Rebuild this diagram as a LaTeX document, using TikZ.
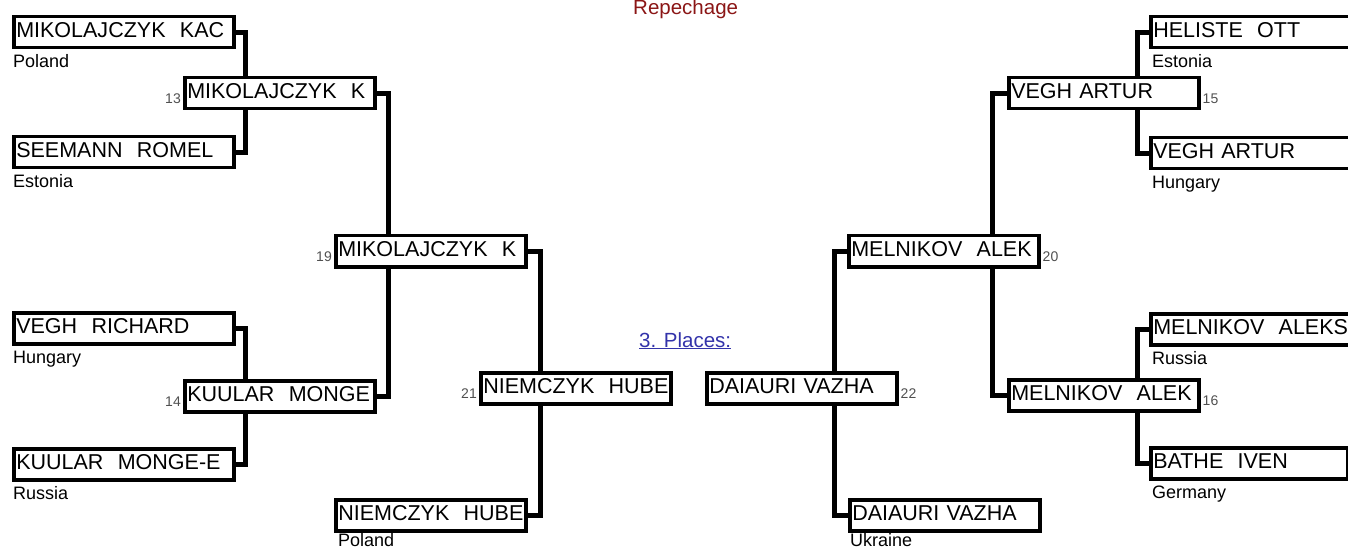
\documentclass[tikz,border=0pt]{standalone}
\usepackage{fontspec}
\setmainfont{Liberation Sans}
\newcommand\nmfont{\fontsize{21.5bp}{24bp}\selectfont}
\newcommand\ctfont{\fontsize{18bp}{21bp}\selectfont}
\newcommand\nbfont{\fontsize{14bp}{16bp}\selectfont}
\newcommand\ttlfont{\fontsize{20.5bp}{23bp}\selectfont}
\definecolor{repred}{RGB}{139,22,22}
\definecolor{placeblue}{RGB}{51,51,170}
\definecolor{numgray}{RGB}{80,80,80}
\begin{document}
\begin{tikzpicture}[x=1bp,y=-1bp,
  box/.style={draw, line width=3.5bp, fill=white, anchor=north west,
    inner xsep=2.5bp, inner ysep=0pt, minimum height=31bp,
    text height=15bp, text depth=5bp, align=left, font=\nmfont},
  wide/.style={box, text width=215bp},
  narrow/.style={box, text width=185bp},
  conn/.style={line width=5bp},
  country/.style={anchor=base west, inner sep=0pt, font=\ctfont},
  numl/.style={anchor=base east, inner sep=0pt, font=\nbfont, text=numgray},
  numr/.style={anchor=base west, inner sep=0pt, font=\nbfont, text=numgray},
  ttl/.style={anchor=base west, inner sep=0pt, font=\ttlfont}]
\useasboundingbox (0,0) rectangle (1348,549);
\clip (0,0) rectangle (1348,549);
% titles
\node[ttl, text=repred] (rep) at (633,15) {Repechage};
\node[ttl, text=placeblue] (pl) at (639,347) {\underline{3. Places:}};
% left side
\node[wide] (B1) at (12,15) {MIKOLAJCZYK~~KAC};
\node[wide] (B2) at (12,135) {SEEMANN~~ROMEL};
\node[wide] (B3) at (12,311) {VEGH~~RICHARD};
\node[wide] (B4) at (12,447) {KUULAR~~MONGE-E};
\node[narrow] (C1) at (183,76) {MIKOLAJCZYK~~K};
\node[narrow] (C2) at (183,379) {KUULAR~~MONGE};
\node[narrow] (D1) at (334,234) {MIKOLAJCZYK~~K};
\node[narrow] (E1) at (479,371) {NIEMCZYK~~HUBE};
\node[narrow] (F1) at (334,498) {NIEMCZYK~~HUBE};
% right side
\node[wide] (R1) at (1149,15) {HELISTE~~OTT};
\node[wide] (R2) at (1149,136) {VEGH ARTUR};
\node[wide] (R3) at (1149,312) {MELNIKOV~~ALEKS};
\node[box, text width=192bp] (R4) at (1149,446) {BATHE~~IVEN};
\node[narrow] (S1) at (1007,76) {VEGH ARTUR};
\node[narrow] (S2) at (1007,378) {MELNIKOV~~ALEK};
\node[narrow] (T1) at (847,234) {MELNIKOV~~ALEK};
\node[narrow] (U1) at (705,371) {DAIAURI VAZHA};
\node[narrow] (V1) at (848,498) {DAIAURI VAZHA};
% countries
\node[country] (cB1) at ([shift={(1,18)}]B1.south west) {Poland};
\node[country] (cB2) at ([shift={(1,18)}]B2.south west) {Estonia};
\node[country] (cB3) at ([shift={(1,18)}]B3.south west) {Hungary};
\node[country] (cB4) at ([shift={(1,18)}]B4.south west) {Russia};
\node[country] (cF1) at ([shift={(4,14)}]F1.south west) {Poland};
\node[country] (cR1) at ([shift={(3,18)}]R1.south west) {Estonia};
\node[country] (cR2) at ([shift={(3,18)}]R2.south west) {Hungary};
\node[country] (cR3) at ([shift={(3,18)}]R3.south west) {Russia};
\node[country] (cR4) at ([shift={(3,18)}]R4.south west) {Germany};
\node[country] (cV1) at ([shift={(2,14)}]V1.south west) {Ukraine};
% numbers
\node[numl] (n13) at ([shift={(-2,-7)}]C1.south west) {13};
\node[numl] (n14) at ([shift={(-2,-7)}]C2.south west) {14};
\node[numl] (n19) at ([shift={(-2,-7)}]D1.south west) {19};
\node[numl] (n21) at ([shift={(-2,-7)}]E1.south west) {21};
\node[numr] (n15) at ([shift={(2,-7)}]S1.south east) {15};
\node[numr] (n16) at ([shift={(2,-7)}]S2.south east) {16};
\node[numr] (n20) at ([shift={(2,-7)}]T1.south east) {20};
\node[numr] (n22) at ([shift={(2,-7)}]U1.south east) {22};
% connector columns
\coordinate (vx1) at (245,0);
\coordinate (vx2) at (388,0);
\coordinate (vx3) at (540,0);
\coordinate (wx3) at (834,0);
\coordinate (wx2) at (992,0);
\coordinate (wx1) at (1137,0);
% connectors
\draw[conn] (B1.east) -| (C1.north -| vx1);
\draw[conn] (C1.south -| vx1) |- (B2.east);
\draw[conn] (B3.east) -| (C2.north -| vx1);
\draw[conn] (C2.south -| vx1) |- (B4.east);
\draw[conn] (C1.east) -| (D1.north -| vx2);
\draw[conn] (D1.south -| vx2) |- (C2.east);
\draw[conn] (D1.east) -| (E1.north -| vx3);
\draw[conn] (E1.south -| vx3) |- (F1.east);
\draw[conn] (R1.west) -| (S1.north -| wx1);
\draw[conn] (S1.south -| wx1) |- (R2.west);
\draw[conn] (R3.west) -| (S2.north -| wx1);
\draw[conn] (S2.south -| wx1) |- (R4.west);
\draw[conn] (S1.west) -| (T1.north -| wx2);
\draw[conn] (T1.south -| wx2) |- (S2.west);
\draw[conn] (T1.west) -| (U1.north -| wx3);
\draw[conn] (U1.south -| wx3) |- (V1.west);
\end{tikzpicture}
\end{document}
